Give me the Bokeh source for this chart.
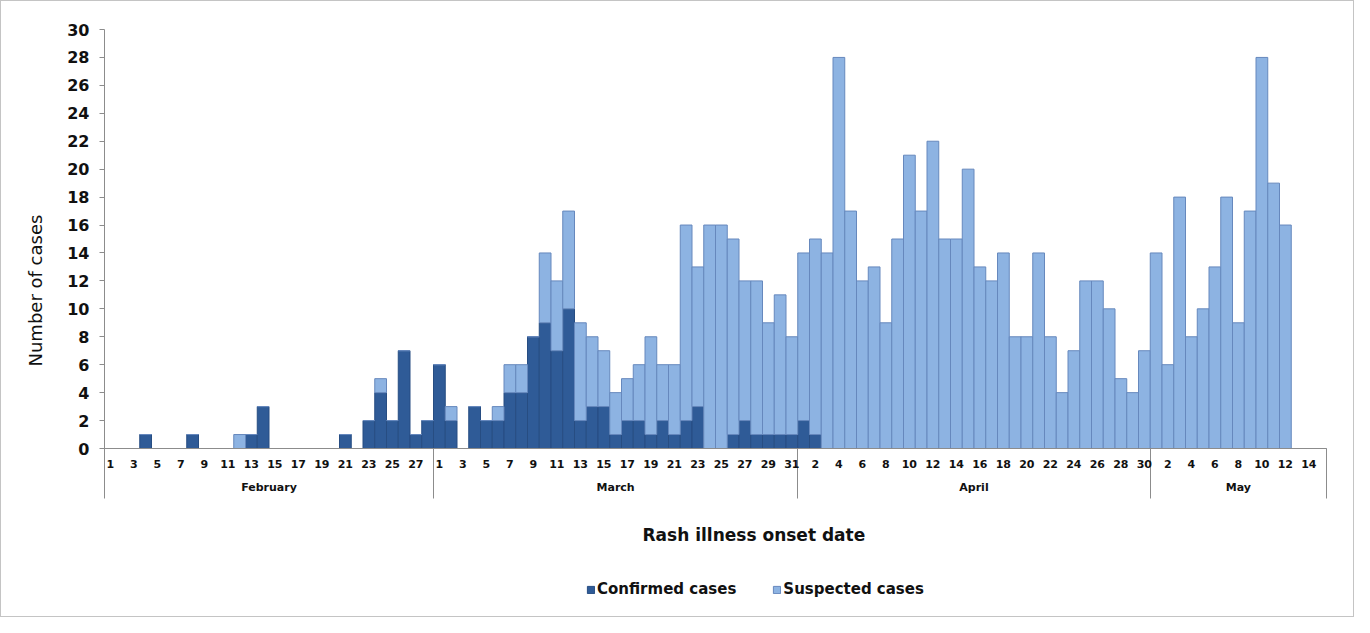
from bokeh.plotting import figure
from bokeh.layouts import column
from bokeh.models import (ColumnDataSource, FixedTicker, LinearAxis, Range1d,
                          Legend, LegendItem, Title)
from bokeh.embed import file_html
from bokeh.resources import INLINE

# ---------------- data ----------------
months = ["February", "March", "April", "May"]
month_days = [28, 31, 30, 15]

feb_confirmed = [0, 0, 0, 1, 0, 0, 0, 1, 0, 0, 0, 0, 1, 3, 0, 0, 0, 0, 0, 0, 1, 0, 2, 4, 2, 7, 1, 2]
feb_suspected = [0, 0, 0, 0, 0, 0, 0, 0, 0, 0, 0, 1, 0, 0, 0, 0, 0, 0, 0, 0, 0, 0, 0, 1, 0, 0, 0, 0]
mar_confirmed = [6, 2, 0, 3, 2, 2, 4, 4, 8, 9, 7, 10, 2, 3, 3, 1, 2, 2, 1, 2, 1, 2, 3, 0, 0, 1, 2, 1, 1, 1, 1]
mar_suspected = [0, 1, 0, 0, 0, 1, 2, 2, 0, 5, 5, 7, 7, 5, 4, 3, 3, 4, 7, 4, 5, 14, 10, 16, 16, 14, 10, 11, 8, 10, 7]
apr_confirmed = [2, 1] + [0] * 28
apr_suspected = [12, 14, 14, 28, 17, 12, 13, 9, 15, 21, 17, 22, 15, 15, 20, 13, 12, 14, 8, 8, 14, 8, 4, 7, 12, 12, 10, 5, 4, 7]
may_confirmed = [0] * 15
may_suspected = [14, 6, 18, 8, 10, 13, 18, 9, 17, 28, 19, 16, 0, 0, 0]

y_ticks = list(range(0, 31, 2))
series_names = ["Confirmed cases", "Suspected cases"]

confirmed = feb_confirmed + mar_confirmed + apr_confirmed + may_confirmed
suspected = feb_suspected + mar_suspected + apr_suspected + may_suspected

day_num, idx = [], []
for m, n in zip(months, month_days):
    for d in range(1, n + 1):
        idx.append(len(day_num))
        day_num.append(d)

# month boundaries / centres (category index space)
bounds = [-0.5]
centres = []
start = 0
for n in month_days:
    centres.append(start + (n - 1) / 2)
    start += n
    bounds.append(start - 0.5)

label_ticks = [i for i in idx if i % 2 == 0 and i < len(idx) - 1]

src = ColumnDataSource(dict(x=idx, confirmed=confirmed, suspected=suspected))

DARK = "#2F5B97"
LIGHT = "#8DB3E2"
DARK_LINE = "#274d82"
LIGHT_LINE = "#6688bd"
AXIS = "#8c8c8c"
FONT = "DejaVu Sans"
TXT = "#111111"
W = 1352

p = figure(width=W, height=570,
           x_range=Range1d(-0.5, len(idx) - 0.5), y_range=Range1d(0, 30),
           x_axis_location=None, output_backend="svg", toolbar_location=None,
           min_border_left=103, min_border_top=28, min_border_right=27,
           min_border_bottom=121)
p.outline_line_color = None
p.grid.visible = False
p.background_fill_color = "white"
p.border_fill_color = "white"

rs = p.vbar_stack(["confirmed", "suspected"], x="x", width=1.0, source=src,
                  fill_color=[DARK, LIGHT], line_color=[DARK_LINE, LIGHT_LINE],
                  line_width=1)

# y axis
ya = p.yaxis[0]
ya.ticker = FixedTicker(ticks=y_ticks)
ya.major_label_text_font = FONT
ya.major_label_text_font_style = "bold"
ya.major_label_text_font_size = "16px"
ya.major_label_text_color = TXT
ya.major_tick_out = 5
ya.major_tick_in = 0
ya.minor_tick_line_color = None
ya.major_tick_line_color = AXIS
ya.axis_line_color = AXIS
ya.major_label_standoff = 10

# day axis (with long minor ticks as month separators)
day_axis = LinearAxis(ticker=FixedTicker(ticks=label_ticks, minor_ticks=bounds),
                      major_label_overrides={i: str(day_num[i]) for i in label_ticks})
day_axis.major_tick_out = 0
day_axis.major_tick_in = 0
day_axis.major_tick_line_color = None
day_axis.minor_tick_out = 50
day_axis.minor_tick_in = 0
day_axis.minor_tick_line_color = AXIS
day_axis.axis_line_color = AXIS
day_axis.major_label_standoff = -39
day_axis.major_label_text_font = FONT
day_axis.major_label_text_font_style = "bold"
day_axis.major_label_text_font_size = "11px"
day_axis.major_label_text_color = TXT
p.add_layout(day_axis, "below")

# month axis
month_axis = LinearAxis(ticker=FixedTicker(ticks=centres, minor_ticks=[]),
                        major_label_overrides={c: m for c, m in zip(centres, months)})
month_axis.major_tick_line_color = None
month_axis.minor_tick_line_color = None
month_axis.major_tick_out = 0
month_axis.major_tick_in = 0
month_axis.minor_tick_out = 0
month_axis.axis_line_color = None
month_axis.major_label_standoff = 10
month_axis.major_label_text_font = FONT
month_axis.major_label_text_font_style = "bold"
month_axis.major_label_text_font_size = "11px"
month_axis.major_label_text_color = TXT
p.add_layout(month_axis, "below")

# x title
xt = Title(text="Rash illness onset date", align="left", offset=538, standoff=53,
           text_font=FONT, text_font_style="bold", text_font_size="17px",
           text_color=TXT)
p.add_layout(xt, "below")

# y title
yt = Title(text="Number of cases", align="left", offset=82, standoff=38,
           text_font=FONT, text_font_style="normal", text_font_size="18px",
           text_color=TXT)
p.add_layout(yt, "left")

# ---------------- legend strip ----------------
lf = figure(width=W, height=45, x_range=Range1d(0, 1), y_range=Range1d(0, 1),
            x_axis_location=None, y_axis_location=None,
            output_backend="svg", toolbar_location=None,
            min_border=0)
lf.outline_line_color = None
lf.grid.visible = False
lf.border_fill_color = "white"
# key glyphs with no drawable value: only their legend swatches show
key_src = ColumnDataSource(dict(x=[0.5], top=[float("nan")]))
r1 = lf.vbar(x="x", top="top", width=0.1, source=key_src,
             fill_color=DARK, line_color=DARK_LINE)
r2 = lf.vbar(x="x", top="top", width=0.1, source=key_src,
             fill_color=LIGHT, line_color=LIGHT_LINE)

legend = Legend(items=[LegendItem(label=series_names[0], renderers=[r1]),
                       LegendItem(label=series_names[1], renderers=[r2])],
                orientation="horizontal", location=(482, 18))
legend.label_text_font = FONT
legend.label_text_font_style = "bold"
legend.label_text_font_size = "15px"
legend.label_text_color = TXT
legend.glyph_width = 9
legend.glyph_height = 9
legend.label_standoff = 2
legend.spacing = 36
legend.border_line_color = None
legend.background_fill_alpha = 0
legend.padding = 0
legend.margin = 0
lf.add_layout(legend, "center")

layout = column(p, lf, spacing=0, styles={"border": "1px solid #c4c4c4"})

open("out.html", "w").write(file_html(layout, INLINE))
